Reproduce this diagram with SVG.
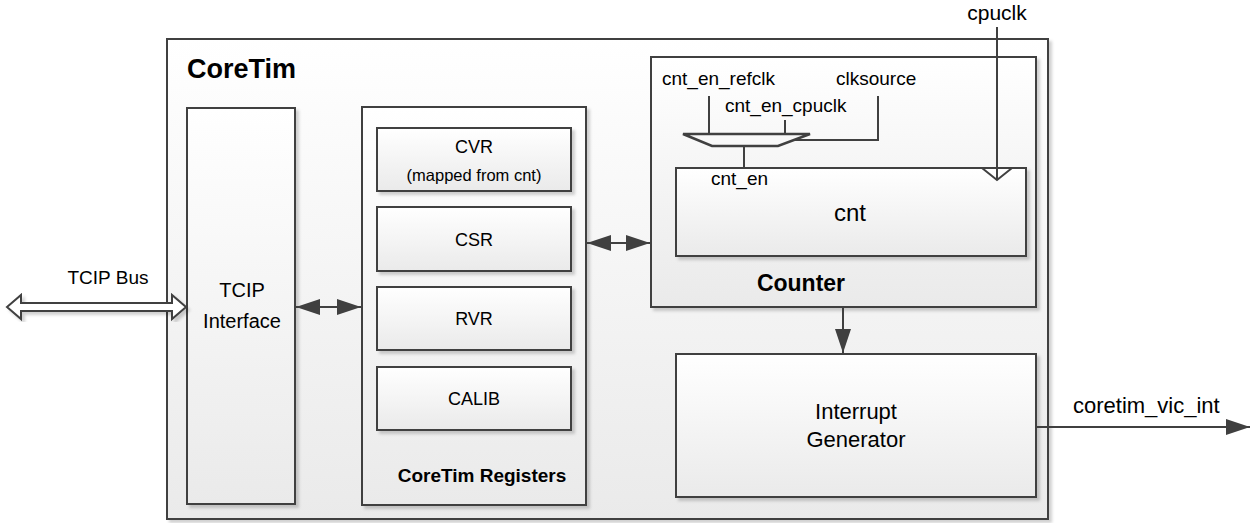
<svg xmlns="http://www.w3.org/2000/svg" width="1252" height="523" viewBox="0 0 1252 523">
<defs>
<linearGradient id="g" x1="0" y1="0" x2="0" y2="1">
<stop offset="0" stop-color="#ffffff"/>
<stop offset="1" stop-color="#eaeaea"/>
</linearGradient>
<filter id="sh" x="-5%" y="-5%" width="115%" height="115%">
<feDropShadow dx="3" dy="3" stdDeviation="1.5" flood-color="#000" flood-opacity="0.18"/>
</filter>
<marker id="ah" viewBox="0 0 24 16" refX="24" refY="8" markerWidth="24" markerHeight="16" markerUnits="userSpaceOnUse" orient="auto-start-reverse">
<path d="M0,0 L24,8 L0,16 z" fill="#404040"/>
</marker>
</defs>
<style>
.box{fill:url(#g);stroke:#404040;stroke-width:2;filter:url(#sh)}
.ln{fill:none;stroke:#404040;stroke-width:2}
.t{font-family:"Liberation Sans",Arial,sans-serif;fill:#000}
.c{text-anchor:middle}
.b{font-weight:bold}
</style>
<rect width="1252" height="523" fill="#ffffff"/>

<g id="coretim">
<rect class="box" x="167" y="39" width="881" height="480"/>
<text class="t b" x="187" y="78" font-size="27">CoreTim</text>
</g>

<g id="tcip-interface">
<rect class="box" x="187" y="108" width="108" height="396"/>
<text class="t c" x="242" y="297" font-size="20">TCIP</text>
<text class="t c" x="242" y="328" font-size="20">Interface</text>
</g>

<g id="coretim-registers">
<rect class="box" x="362" y="107" width="224" height="398"/>
<text class="t c b" x="482" y="482" font-size="19">CoreTim Registers</text>
</g>

<g id="cvr">
<rect class="box" x="377" y="128" width="194" height="63"/>
<text class="t c" x="474" y="153" font-size="18">CVR</text>
<text class="t c" x="474" y="181" font-size="16.5">(mapped from cnt)</text>
</g>

<g id="csr">
<rect class="box" x="377" y="207" width="194" height="64"/>
<text class="t c" x="474" y="246" font-size="18">CSR</text>
</g>

<g id="rvr">
<rect class="box" x="377" y="287" width="194" height="63"/>
<text class="t c" x="474" y="325" font-size="18">RVR</text>
</g>

<g id="calib">
<rect class="box" x="377" y="367" width="194" height="63"/>
<text class="t c" x="474" y="405" font-size="18">CALIB</text>
</g>

<g id="counter">
<rect class="box" x="651" y="57" width="385" height="250"/>
<text class="t c b" x="801" y="291" font-size="23">Counter</text>
</g>

<g id="cnt">
<rect class="box" x="676" y="168" width="350" height="88"/>
<text class="t c" x="850" y="221" font-size="24">cnt</text>
<text class="t" x="711" y="185" font-size="19">cnt_en</text>
<polyline class="ln" points="982,168 997,180 1012,168"/>
</g>

<g id="mux">
<polygon points="683,134 810,134 778,146 712,146" fill="#f8f8f8" stroke="#404040" stroke-width="2.5" stroke-linejoin="miter"/>
</g>

<g id="interrupt-generator">
<rect class="box" x="676" y="354" width="360" height="143"/>
<text class="t c" x="856" y="419" font-size="22">Interrupt</text>
<text class="t c" x="856" y="447" font-size="22">Generator</text>
</g>

<g id="labels">
<text class="t c" x="997" y="20" font-size="21">cpuclk</text>
<text class="t" x="662" y="85" font-size="19">cnt_en_refclk</text>
<text class="t" x="836" y="85" font-size="19">clksource</text>
<text class="t" x="725" y="112" font-size="19">cnt_en_cpuclk</text>
<text class="t" x="108" y="284" font-size="19" text-anchor="middle">TCIP Bus</text>
<text class="t" x="1073" y="413" font-size="22">coretim_vic_int</text>
</g>

<g id="connectors">
<polygon points="7,307 21,295 21,303 172,303 172,295 186,307 172,319 172,311 21,311 21,319" fill="#ffffff" stroke="#404040" stroke-width="2" stroke-linejoin="miter" filter="url(#sh)"/>
<line class="ln" x1="296" y1="307" x2="361" y2="307" marker-start="url(#ah)" marker-end="url(#ah)"/>
<line class="ln" x1="587" y1="243" x2="650" y2="243" marker-start="url(#ah)" marker-end="url(#ah)"/>
<line class="ln" x1="843" y1="308" x2="843" y2="353" marker-end="url(#ah)"/>
<line class="ln" x1="1036" y1="427" x2="1250" y2="427" marker-end="url(#ah)"/>
<line class="ln" x1="997" y1="27" x2="997" y2="180"/>
<line class="ln" x1="709" y1="96" x2="709" y2="134"/>
<line class="ln" x1="785" y1="120" x2="785" y2="134"/>
<polyline class="ln" points="878,96 878,140 794,140"/>
<line class="ln" x1="744" y1="146" x2="744" y2="168"/>
</g>
</svg>
